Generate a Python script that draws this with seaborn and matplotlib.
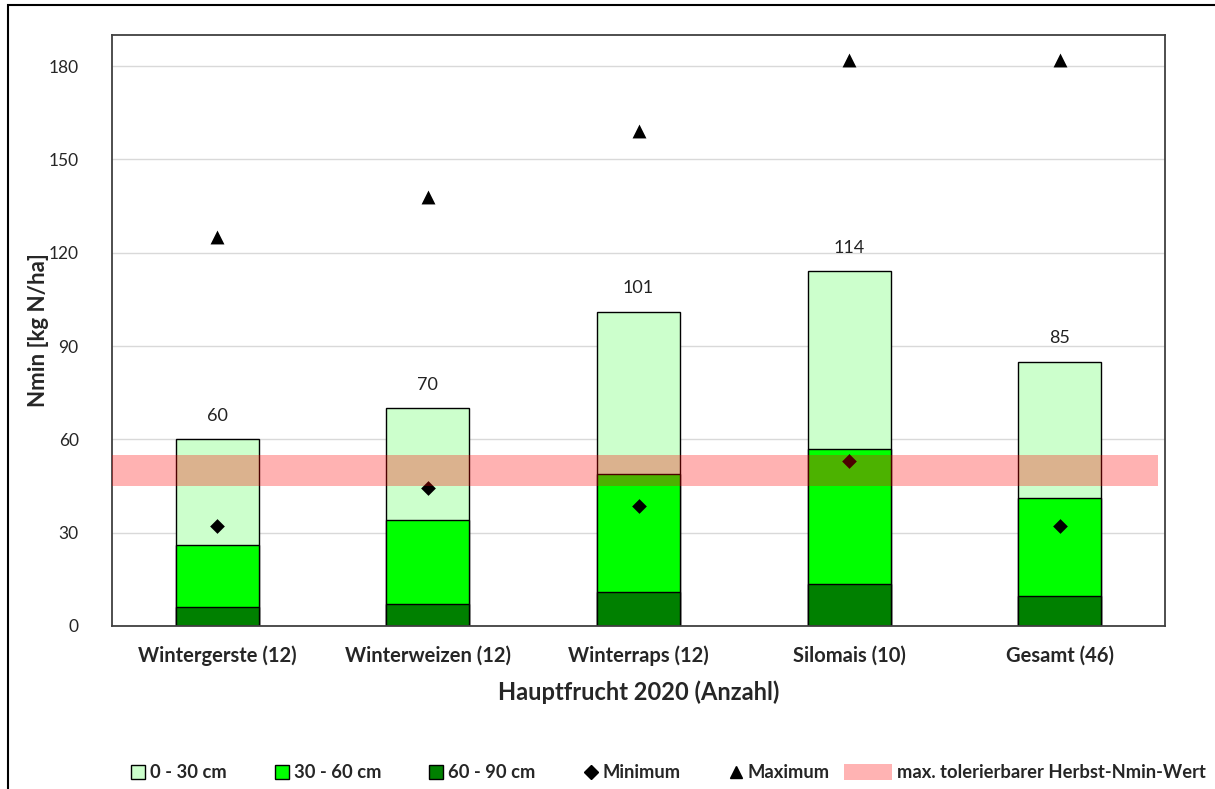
import matplotlib
matplotlib.use("Agg")
import matplotlib.pyplot as plt
import seaborn as sns
import numpy as np
import pandas as pd
from matplotlib.lines import Line2D
from matplotlib.patches import Patch, Rectangle
from matplotlib.legend_handler import HandlerPatch

# ---- data ----
categories = ["Wintergerste (12)", "Winterweizen (12)", "Winterraps (12)", "Silomais (10)", "Gesamt (46)"]
layer_60_90 = [6, 7, 11, 13.5, 9.5]
layer_30_60 = [20, 27, 38, 43.5, 31.5]
layer_0_30 = [34, 36, 52, 57, 44]
totals = [60, 70, 101, 114, 85]
minimum = [32, 44.5, 38.5, 53, 32]
maximum = [125, 138, 159, 182, 182]
band_low, band_high = 45, 55
yticks = [0, 30, 60, 90, 120, 150, 180]

sns.set_theme(style="white")
plt.rcParams['font.family'] = ['Lato', 'DejaVu Sans']

fig = plt.figure(figsize=(12.15, 7.89), dpi=100)
ax = fig.add_axes([112/1215, 1-626/789, (1165-112)/1215, (626-35)/789])

df = pd.DataFrame({
    "cat": categories,
    "c1": np.array(layer_60_90),
    "c2": np.array(layer_60_90) + np.array(layer_30_60),
    "c3": np.array(layer_60_90) + np.array(layer_30_60) + np.array(layer_0_30),
    "mn": minimum,
    "mx": maximum,
})

col_light = "#CCFFCC"
col_mid = "#00FF00"
col_dark = "#008000"
bw = 0.395
for col, c in [("c3", col_light), ("c2", col_mid), ("c1", col_dark)]:
    sns.barplot(data=df, x="cat", y=col, color=c, edgecolor="black", linewidth=1.0,
                width=bw, saturation=1, ax=ax, errorbar=None, zorder=2)

sns.stripplot(data=df, x="cat", y="mn", marker="D", color="black", size=7.5,
              jitter=False, ax=ax, zorder=4)
sns.stripplot(data=df, x="cat", y="mx", marker="^", color="black", size=10,
              jitter=False, ax=ax, zorder=4)

ax.axhspan(band_low, band_high, xmin=0, xmax=0.993, color="red", alpha=0.3, linewidth=0, zorder=5)

for i, t in enumerate(totals):
    ax.text(i, t + 5, f"{t:g}", ha="center", va="bottom", fontsize=13, color="#222222")

ax.set_xlim(-0.5, 4.5)
ax.set_ylim(0, 190)
ax.set_yticks(yticks)
ax.set_yticklabels([str(v) for v in yticks], fontsize=12.5)
ax.yaxis.grid(True, color="#D9D9D9", linewidth=1)
ax.set_axisbelow(True)
ax.tick_params(axis="y", pad=24, length=0)
ax.tick_params(axis="x", pad=14, length=0)
for lbl in ax.get_xticklabels():
    lbl.set_fontweight("bold")
    lbl.set_fontsize(14.5)
for s in ax.spines.values():
    s.set_color("#404040")
    s.set_linewidth(1.3)

ax.set_xlabel("Hauptfrucht 2020 (Anzahl)", fontsize=17, fontweight="bold", labelpad=10)
ax.set_ylabel("Nmin [kg N/ha]", fontsize=16, fontweight="bold", labelpad=0)

# figure border
fig.patches.append(Rectangle((8/1215, -0.05), 1.2, 1-5/789+0.05, transform=fig.transFigure,
                             fill=False, edgecolor="black", linewidth=1.5))


class WideBand(HandlerPatch):
    def create_artists(self, legend, orig_handle, xdescent, ydescent, width, height, fontsize, trans):
        r = Rectangle((-xdescent - 24, -ydescent - 1), width + 24, height + 2,
                      facecolor=orig_handle.get_facecolor(), edgecolor="none", transform=trans)
        return [r]


handles = [
    Line2D([], [], marker="s", linestyle="none", markerfacecolor=col_light, markeredgecolor="black", markersize=10),
    Line2D([], [], marker="s", linestyle="none", markerfacecolor=col_mid, markeredgecolor="black", markersize=10),
    Line2D([], [], marker="s", linestyle="none", markerfacecolor=col_dark, markeredgecolor="black", markersize=10),
    Line2D([], [], marker="D", linestyle="none", color="black", markersize=7),
    Line2D([], [], marker="^", linestyle="none", color="black", markersize=9),
    Patch(facecolor=(1, 0.7, 0.7)),
]
labels = ["0 - 30 cm", "30 - 60 cm", "60 - 90 cm", "Minimum", "Maximum", "max. tolerierbarer Herbst-Nmin-Wert"]
fig.legend(handles, labels, loc="center", bbox_to_anchor=(0.55, 1-773/789), ncol=6, frameon=False,
           handlelength=0.8, handletextpad=0.25, columnspacing=2.6,
           prop={"weight": "bold", "size": 13.2},
           handler_map={Patch: WideBand()})

fig.savefig("out.png", dpi=100)
